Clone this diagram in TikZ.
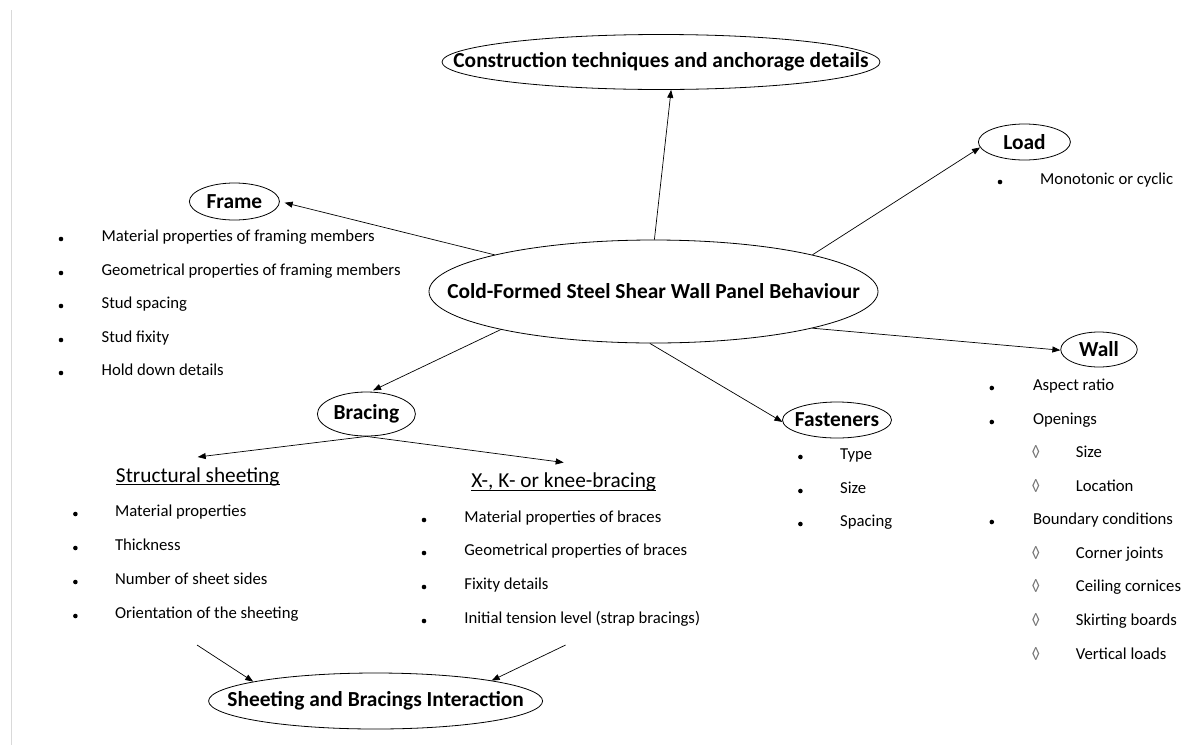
\documentclass[tikz,border=0pt]{standalone}
\usepackage{fontspec}
\setmainfont{Carlito}
\usetikzlibrary{shapes.geometric,arrows.meta}
\begin{document}
\begin{tikzpicture}[x=1pt,y=-1pt,
        oval/.style={ellipse, draw, line width=0.8pt, inner sep=-3cm, font=\fontsize{21.4}{25}\selectfont\bfseries},
        subhead/.style={anchor=base, inner xsep=0pt, inner ysep=10pt, font=\fontsize{21.3}{25}\selectfont},
        item/.style={anchor=mid west, inner sep=0pt, font=\fontsize{16.7}{20}\selectfont},
        lozenge/.style={anchor=mid, inner sep=0pt, text=black!55, font=\fontsize{16.7}{20}\selectfont},
        link/.style={-{Triangle[length=8pt,width=6pt]}, line width=0.7pt}]
        \useasboundingbox (0,0) rectangle (1185,745);
        \draw [gray!30, line width=1pt] (11,10) -- (11,745);
        \node [oval, minimum width=449pt, minimum height=103pt] (cfs) at (653.5,291.5) {Cold-Formed Steel Shear Wall Panel Behaviour};
        \node [oval, minimum width=438pt, minimum height=55pt] (constr) at (661,62) {Construction techniques and anchorage details};
        \node [oval, minimum width=92pt, minimum height=36pt] (load) at (1024.4,142) {Load};
        \node [oval, minimum width=90pt, minimum height=37pt] (frame) at (234.4,201.5) {Frame};
        \node [oval, minimum width=76.5pt, minimum height=35pt] (wall) at (1099,349.5) {Wall};
        \node [oval, minimum width=109pt, minimum height=36pt] (fastn) at (837,420) {Fasteners};
        \node [oval, minimum width=98pt, minimum height=44pt] (bracing) at (366.4,414) {Bracing};
        \node [oval, minimum width=334pt, minimum height=56pt] (interact) at (375.6,701) {Sheeting and Bracings Interaction};
        \node [subhead] (sheet) at (197.7,482) {Structural sheeting};
        \node [subhead] (xbrace) at (563.7,487.5) {X-, K- or knee-bracing};
        \draw [line width=0.7pt] ([yshift=-2.5pt]sheet.base west) -- ([yshift=-2.5pt]sheet.base east);
        \draw [line width=0.7pt] ([yshift=-2.5pt]xbrace.base west) -- ([yshift=-2.5pt]xbrace.base east);
        \fill (61,239) circle (2.3pt); \node [item] (fr1) at (101.4,239) {Material properties of framing members};
        \fill (61,273) circle (2.3pt); \node [item] (fr2) at (101.4,273) {Geometrical properties of framing members};
        \fill (61,306) circle (2.3pt); \node [item] (fr3) at (101.4,306) {Stud spacing};
        \fill (61,340) circle (2.3pt); \node [item] (fr4) at (101.4,340) {Stud fixity};
        \fill (61,373) circle (2.3pt); \node [item] (fr5) at (101.4,373) {Hold down details};
        \fill (1000,182) circle (2.3pt); \node [item] (ld1) at (1040,182) {Monotonic or cyclic};
        \fill (991.8,388) circle (2.3pt); \node [item] (wl1) at (1032.8,388) {Aspect ratio};
        \fill (991.8,422) circle (2.3pt); \node [item] (wl2) at (1032.8,422) {Openings};
        \node [lozenge] (wd1) at (1035.8,455) {◊}; \node [item] (wl3) at (1075.7,455) {Size};
        \node [lozenge] (wd2) at (1035.8,489) {◊}; \node [item] (wl4) at (1075.7,489) {Location};
        \fill (991.8,522) circle (2.3pt); \node [item] (wl5) at (1032.8,522) {Boundary conditions};
        \node [lozenge] (wd3) at (1035.8,556) {◊}; \node [item] (wl6) at (1075.7,556) {Corner joints};
        \node [lozenge] (wd4) at (1035.8,589) {◊}; \node [item] (wl7) at (1075.7,589) {Ceiling cornices};
        \node [lozenge] (wd5) at (1035.8,623) {◊}; \node [item] (wl8) at (1075.7,623) {Skirting boards};
        \node [lozenge] (wd6) at (1035.8,657) {◊}; \node [item] (wl9) at (1075.7,657) {Vertical loads};
        \fill (800.4,457) circle (2.3pt); \node [item] (fa1) at (840,457) {Type};
        \fill (800.4,491) circle (2.3pt); \node [item] (fa2) at (840,491) {Size};
        \fill (800.4,524) circle (2.3pt); \node [item] (fa3) at (840,524) {Spacing};
        \fill (75.4,514) circle (2.3pt); \node [item] (sh1) at (114.8,514) {Material properties};
        \fill (75.4,548) circle (2.3pt); \node [item] (sh2) at (114.8,548) {Thickness};
        \fill (75.4,582) circle (2.3pt); \node [item] (sh3) at (114.8,582) {Number of sheet sides};
        \fill (75.4,616) circle (2.3pt); \node [item] (sh4) at (114.8,616) {Orientation of the sheeting};
        \fill (424,520) circle (2.3pt); \node [item] (xb1) at (464.2,520) {Material properties of braces};
        \fill (424,553) circle (2.3pt); \node [item] (xb2) at (464.2,553) {Geometrical properties of braces};
        \fill (424,587) circle (2.3pt); \node [item] (xb3) at (464.2,587) {Fixity details};
        \fill (424,621) circle (2.3pt); \node [item] (xb4) at (464.2,621) {Initial tension level (strap bracings)};
        \coordinate (sheetout) at (197,645);
        \coordinate (braceout) at (565.6,645);
        \draw [link] (cfs.89) -- (constr.-70);
        \draw [link] (cfs.13) -- (load.187);
        \draw [link, shorten >=5pt] (cfs.167) -- (frame.east);
        \draw [link] (cfs.-13) -- (wall.181);
        \draw [link] (cfs.-94) -- (fastn.182);
        \draw [link, shorten >=3pt] (cfs.194) -- (bracing.80);
        \draw [link] (bracing.south) -- (sheet.north);
        \draw [link] (bracing.south) -- (xbrace.north);
        \draw [link] (sheetout) -- (interact.171);
        \draw [link] (braceout) -- (interact.10);
\end{tikzpicture}
\end{document}
